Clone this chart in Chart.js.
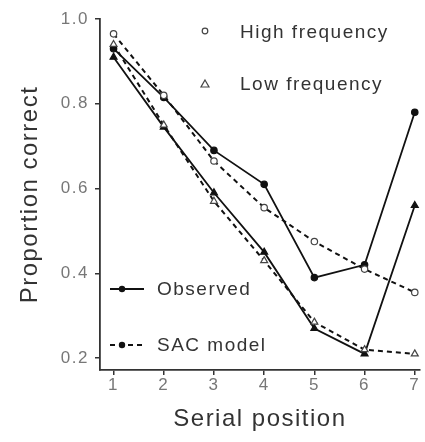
<!DOCTYPE html>
<html>
<head>
<meta charset="utf-8">
<script src="https://cdn.jsdelivr.net/npm/chart.js@4/dist/chart.umd.min.js"></script>
<style>
  html, body { margin: 0; padding: 0; background: #fff; }
  #wrap { width: 425px; height: 442px; position: relative; }
</style>
</head>
<body>
<div id="wrap"><canvas id="myChart"></canvas></div>
<script>
// serial positions and tick labels
var positions = [1, 2, 3, 4, 5, 6, 7];
var yTicks = [0.2, 0.4, 0.6, 0.8, 1.0];

// proportion correct
var observedHigh = [0.93, 0.815, 0.69, 0.61, 0.39, 0.42, 0.78];
var observedLow  = [0.91, 0.745, 0.59, 0.45, 0.27, 0.21, 0.56];
var sacHigh      = [0.965, 0.82, 0.665, 0.555, 0.475, 0.41, 0.355];
var sacLow       = [0.94, 0.75, 0.57, 0.43, 0.285, 0.22, 0.21];

var legendFreq = ['High frequency', 'Low frequency'];
var legendModel = ['Observed', 'SAC model'];

var FONT = '"Liberation Sans", Arial, sans-serif';

function pairs(vals){
  var out = [];
  for (var i = 0; i < positions.length; i++) out.push({x: positions[i], y: vals[i]});
  return out;
}

function series(vals, dashed, style, filled){
  return {
    data: pairs(vals),
    borderColor: '#111',
    borderWidth: dashed ? 2 : 1.8,
    borderDash: dashed ? [5, 4] : [],
    pointStyle: style,
    pointRadius: style == 'triangle' ? 4 : 3.2,
    pointBorderWidth: 1.2,
    pointBorderColor: filled ? '#111' : '#444',
    pointBackgroundColor: filled ? '#111' : '#fff',
    fill: false,
    tension: 0,
    clip: false
  };
}

// the original lettering is loosely spaced
var spacingPlugin = {
  id: 'spacing',
  beforeLayout: function(chart){ chart.ctx.letterSpacing = '1.5px'; },
  beforeDraw: function(chart){ chart.ctx.letterSpacing = '1.5px'; }
};

// legends drawn in two blocks like the original figure
var legendPlugin = {
  id: 'splitLegend',
  afterDraw: function(chart){
    var ctx = chart.ctx;
    var a = chart.chartArea;
    ctx.save();
    ctx.font = '19px ' + FONT;
    ctx.fillStyle = '#333';
    ctx.textBaseline = 'middle';

    // marker legend (top right)
    var mx = a.left + 105, tx = a.left + 140;
    ctx.strokeStyle = '#444';
    ctx.lineWidth = 1.2;
    ctx.beginPath();
    ctx.arc(mx, 31, 2.8, 0, Math.PI * 2);
    ctx.fillStyle = '#fff'; ctx.fill(); ctx.stroke();
    ctx.beginPath();
    ctx.moveTo(mx, 80); ctx.lineTo(mx + 4, 87); ctx.lineTo(mx - 4, 87); ctx.closePath();
    ctx.fill(); ctx.stroke();
    ctx.fillStyle = '#333';
    ctx.fillText(legendFreq[0], tx, 33);
    ctx.fillText(legendFreq[1], tx, 85);

    // line legend (bottom left)
    var lx0 = a.left + 10, lx1 = a.left + 44, dot = a.left + 22, ltx = a.left + 57;
    var rows = [289, 345];
    ctx.strokeStyle = '#111';
    ctx.lineWidth = 2;
    for (var i = 0; i < 2; i++){
      ctx.setLineDash(i == 0 ? [] : [5, 4]);
      ctx.beginPath(); ctx.moveTo(lx0, rows[i]); ctx.lineTo(lx1, rows[i]); ctx.stroke();
      ctx.setLineDash([]);
      ctx.beginPath(); ctx.arc(dot, rows[i], 3.2, 0, Math.PI * 2);
      ctx.fillStyle = '#111'; ctx.fill();
      ctx.fillStyle = '#333';
      ctx.fillText(legendModel[i], ltx, rows[i] + 1);
    }
    ctx.restore();
  }
};

var ctx = document.getElementById('myChart').getContext('2d');
var chart = new Chart(ctx, {
  type: 'line',
  data: {
    datasets: [
      series(sacHigh, true, 'circle', false),
      series(sacLow, true, 'triangle', false),
      series(observedHigh, false, 'circle', true),
      series(observedLow, false, 'triangle', true)
    ]
  },
  options: {
    responsive: true,
    maintainAspectRatio: false,
    animation: false,
    layout: { padding: { top: 19, right: 0, left: 16, bottom: 8 } },
    plugins: { legend: { display: false }, tooltip: { enabled: false } },
    scales: {
      x: {
        type: 'linear',
        min: 0.73,
        max: 7.1,
        afterBuildTicks: function(axis){ axis.ticks = positions.map(function(v){ return {value: v}; }); },
        afterFit: function(axis){ axis.height = 64; },
        grid: { display: true, drawOnChartArea: false, drawTicks: true, tickLength: 5, color: '#333', lineWidth: 1.5 },
        border: { display: true, color: '#333', width: 1.8 },
        ticks: { color: '#777', font: { family: FONT, size: 17 }, padding: 0, maxRotation: 0 },
        title: { display: true, text: 'Serial position', color: '#333', font: { family: FONT, size: 24 }, padding: { top: 0, bottom: 0 } }
      },
      y: {
        min: 0.172,
        max: 1.0,
        afterBuildTicks: function(axis){ axis.ticks = yTicks.map(function(v){ return {value: v}; }); },
        afterFit: function(axis){ axis.width = 84; },
        grid: { display: true, drawOnChartArea: false, drawTicks: true, tickLength: 5, color: '#333', lineWidth: 1.5 },
        border: { display: true, color: '#333', width: 1.8 },
        ticks: { color: '#777', font: { family: FONT, size: 17 }, padding: 6,
          callback: function(v){ return v.toFixed(1); } },
        title: { display: true, text: 'Proportion correct', color: '#333', font: { family: FONT, size: 24 }, padding: { top: 0, bottom: 0 } }
      }
    }
  },
  plugins: [spacingPlugin, legendPlugin]
});
</script>
</body>
</html>
